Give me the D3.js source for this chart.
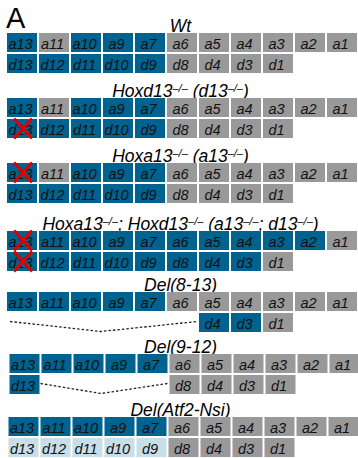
<!DOCTYPE html>
<html><head><meta charset="utf-8">
<script src="https://cdn.jsdelivr.net/npm/d3@7"></script>
<style>body{margin:0;background:#fff}svg{display:block}</style>
</head><body>
<script>
// ---- data ----
const aGenes = ["a13","a11","a10","a9","a7","a6","a5","a4","a3","a2","a1"];
const dGenes = ["d13","d12","d11","d10","d9","d8","d4","d3","d1"];
// state codes: b = active (blue), g = other (gray), l = reduced (light blue), "" = deleted (absent)
const panelTitles = [
  [["Wt",""]],
  [["Hoxd13",""],["\u2013/\u2013","sup"],[" (d13",""],["\u2013/\u2013","sup"],[")",""]],
  [["Hoxa13",""],["\u2013/\u2013","sup"],[" (a13",""],["\u2013/\u2013","sup"],[")",""]],
  [["Hoxa13",""],["\u2013/\u2013","sup"],["; Hoxd13",""],["\u2013/\u2013","sup"],[" (a13",""],["\u2013/\u2013","sup"],["; d13",""],["\u2013/\u2013","sup"],[")",""]],
  [["Del(8-13)",""]],
  [["Del(9-12)",""]],
  [["Del(Atf2-Nsi)",""]]
];
const aStates = [
  ["b","g","b","b","b","g","g","g","g","g","g"],
  ["b","g","b","b","b","g","g","g","g","g","g"],
  ["b","g","b","b","b","g","g","g","g","g","g"],
  ["b","b","b","b","b","b","b","b","b","b","g"],
  ["b","b","b","b","b","g","g","g","g","g","g"],
  ["b","b","b","b","b","g","g","g","g","g","g"],
  ["b","b","b","b","b","g","g","g","g","g","g"]
];
const dStates = [
  ["b","b","b","b","b","g","g","g","g"],
  ["b","b","b","b","b","g","g","g","g"],
  ["b","b","b","b","b","g","g","g","g"],
  ["b","b","b","b","b","b","b","b","g"],
  ["","","","","","","b","b","g"],
  ["b","","","","","g","g","g","g"],
  ["l","l","l","l","l","g","g","g","g"]
];
// knocked-out genes (red cross)
const knockouts = [[],["d13"],["a13"],["a13","d13"],[],[],[]];

// ---- layout ----
const W = 358, H = 458;
const panelTop = [33, 98, 163, 231, 292, 354, 417];
const panelX0 = [7, 7, 7, 7, 7, 9.5, 8.5];
const rowH = 19, rowGap = 2;
const colors = {b:"#00628f", g:"#999999", l:"#c8dee8"};

const svg = d3.select("body").append("svg").attr("width", W).attr("height", H)
  .style("font-family", "'Liberation Sans', Arial, sans-serif");

svg.append("text").attr("x", 6).attr("y", 27.5).attr("font-size", 29).attr("fill", "#000").text("A");

panelTitles.forEach((segs, p) => {
  const x = d3.scaleBand().domain(d3.range(aGenes.length))
    .range([panelX0[p], panelX0[p] + 32 * aGenes.length - 2]).paddingInner(2 / 32);
  const y = d3.scaleBand().domain(["a","d"])
    .range([panelTop[p], panelTop[p] + 2 * rowH + rowGap]).paddingInner(rowGap / (rowH + rowGap));
  const g = svg.append("g");

  // title
  const t = g.append("text").attr("x", 180.5).attr("y", panelTop[p] - 1.5)
    .attr("text-anchor", "middle").attr("font-size", 17.5).attr("font-style", "italic").attr("fill", "#000");
  segs.forEach(([s, kind]) => {
    const ts = t.append("tspan").text(s);
    if (kind === "sup") ts.attr("font-size", 11).attr("baseline-shift", "5.5");
  });

  const rows = [
    {key:"a", genes:aGenes, states:aStates[p]},
    {key:"d", genes:dGenes, states:dStates[p]}
  ];
  rows.forEach(r => {
    const cells = r.genes.map((gname, i) => ({gname, i, s:r.states[i]})).filter(c => c.s !== "");
    const cg = g.selectAll(null).data(cells).enter().append("g");
    cg.append("rect")
      .attr("x", c => x(c.i)).attr("y", y(r.key))
      .attr("width", x.bandwidth()).attr("height", y.bandwidth())
      .attr("fill", c => colors[c.s]);
    cg.append("text")
      .attr("x", c => x(c.i) + x.bandwidth() / 2 - 1.5)
      .attr("y", y(r.key) + y.bandwidth() - 3.2)
      .attr("text-anchor", "middle").attr("font-size", 14.5).attr("font-style", "italic")
      .attr("fill", "#111").text(c => c.gname);
    // knockouts
    cells.filter(c => knockouts[p].includes(c.gname)).forEach(c => {
      const x0 = x(c.i) + 7, x1 = x(c.i) + 25, y0 = y(r.key) - 0.5, y1 = y(r.key) + y.bandwidth() + 0.5;
      g.append("path").attr("d", `M${x0},${y0}L${x1},${y1}M${x1},${y0}L${x0},${y1}`)
        .attr("stroke", "#e00000").attr("stroke-width", 3).attr("fill", "none");
    });
    // deletion bracket (dashed) over missing span
    const present = r.states.map(s => s !== "");
    if (present.includes(false)) {
      const firstMissing = present.indexOf(false);
      const lastMissing = present.lastIndexOf(false);
      const left = firstMissing === 0 ? x(0) + 3 : x(firstMissing - 1) + x.bandwidth() + 1;
      const right = x(lastMissing + 1) - 2;
      const ym = y(r.key) + y.bandwidth() / 2 - 1;
      const yb = y(r.key) + y.bandwidth() - 0.5;
      g.append("path").attr("d", `M${left},${ym}L${101},${yb}L${right},${ym}`)
        .attr("fill", "none").attr("stroke", "#222").attr("stroke-width", 1.3)
        .attr("stroke-dasharray", "2.5,2");
    }
  });
});
</script>
</body></html>
